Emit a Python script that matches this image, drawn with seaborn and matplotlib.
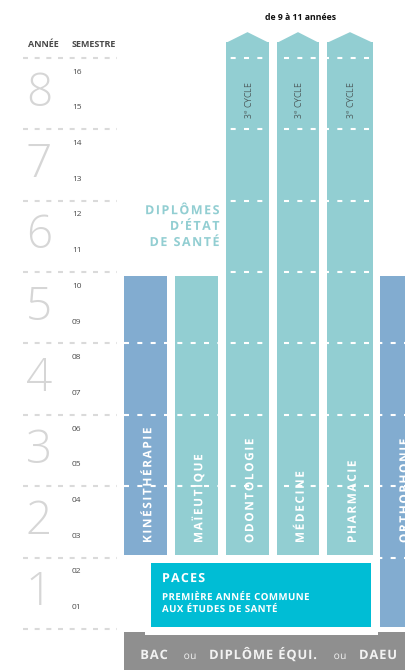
import matplotlib
matplotlib.use("Agg")
import matplotlib.pyplot as plt
import matplotlib.transforms as mtransforms
from matplotlib.patches import Polygon, Rectangle, PathPatch
from matplotlib.path import Path
from matplotlib.textpath import TextPath
from matplotlib.font_manager import FontProperties, findfont
from matplotlib.ft2font import FT2Font
import seaborn as sns

# ---- DATA ----
years = [1, 2, 3, 4, 5, 6, 7, 8]
semesters = ["01", "02", "03", "04", "05", "06", "07", "08",
             "09", "10", "11", "12", "13", "14", "15", "16"]

programs = ["KINÉSITHÉRAPIE", "MAÏEUTIQUE", "ODONTOLOGIE",
            "MÉDECINE", "PHARMACIE", "ORTHOPHONIE"]
first_year = [2, 2, 2, 2, 2, 1]
last_year = [5, 5, 8, 8, 8, 5]
open_ended = [False, False, True, True, True, False]
prog_colors = ["#82acd0", "#92ced2", "#92ced2", "#92ced2", "#92ced2", "#82acd0"]

long_label = "de 9 à 11 années"
cycle_label = "3$^{\\mathregular{e}}$ CYCLE"
diploma_lines = ["DIPLÔMES", "D’ÉTAT", "DE SANTÉ"]
paces_title = "PACES"
paces_lines = ["PREMIÈRE ANNÉE COMMUNE", "AUX ÉTUDES DE SANTÉ"]
entry_words = [("BAC", True), ("ou", False), ("DIPLÔME ÉQUI.", True),
               ("ou", False), ("DAEU", True)]

# ---- LAYOUT ----
col_left = [124, 175, 226, 277, 327, 380]
col_width = [43, 43, 43, 42, 46, 44]
entry_x = [154, 190, 263, 340, 378]
PX_PER_YEAR = 71.4
PT = 100 / 72

sns.set_theme(style="white")
plt.rcParams["font.family"] = ["Open Sans", "DejaVu Sans"]

fig = plt.figure(figsize=(4.05, 6.70), dpi=100)
ax = fig.add_axes([0, 0, 1, 1])
ax.set_xlim(0, 405)
ax.set_ylim(-0.574, 8.81)
ax.axis("off")


def spaced(x, y, s, size, track, weight="bold", color="white",
           vertical=False, align="left"):
    """Letter-spaced text drawn as glyph paths; y is the baseline."""
    prop = FontProperties(family="Open Sans", weight=weight)
    font = FT2Font(findfont(prop))
    font.set_size(size, 72)
    track_pt = track / PT
    pos, parts = 0.0, []
    for c in s:
        adv = font.load_char(ord(c)).linearHoriAdvance / 65536
        if c != " ":
            parts.append(TextPath((pos, 0), c, size=size, prop=prop))
        pos += adv + track_pt
    total = pos - track_pt
    shift = {"left": 0, "center": -total / 2, "right": -total}[align]
    tr = mtransforms.Affine2D().translate(shift, 0).scale(PT)
    if vertical:
        tr = tr.rotate_deg(90)
    tr = tr.scale(1, 1 / PX_PER_YEAR).translate(x, y) + ax.transData
    ax.add_patch(PathPatch(Path.make_compound_path(*parts), transform=tr,
                           facecolor=color, lw=0))


# grey dashed year separators (left)
ax.hlines(range(0, 9), 23, 117, colors="#dadada", lw=1.5,
          linestyles=(0, (2.4, 3.2)))

# headers
ax.text(43, 8.19, "ANNÉE", ha="center", va="center", fontsize=6.5,
        fontweight="bold", color="#4a4a4a")
ax.text(94, 8.19, "SEMESTRE", ha="center", va="center", fontsize=6.5,
        fontweight="bold", color="#4a4a4a")
ax.text(301, 8.56, long_label, ha="center", va="center", fontsize=6.3,
        fontweight="bold", color="#111111")

# year digits and semesters
for y in years:
    ax.text(39, y - 0.5, str(y), ha="center", va="center", fontsize=33,
            fontweight="light", color="#d6d6d6")
for i, s in enumerate(semesters):
    k = i // 2 + 1
    pos = k - 0.7 if i % 2 == 0 else k - 0.2
    ax.text(72, pos, s, ha="left", va="center", fontsize=6, color="#4a4a4a")

# entry bar + white halo behind PACES
ax.add_patch(Rectangle((124, -0.574), 281, 0.53, color="#8f8f8f", lw=0))
ax.add_patch(Rectangle((145, -0.084), 233, 1.1, color="white", lw=0))

# program columns
for i, name in enumerate(programs):
    bottom = first_year[i] - 1 + (0.028 if first_year[i] == 1 else 0.036)
    top = 8.22 if open_ended[i] else last_year[i] - 0.056
    ax.bar(col_left[i], top - bottom, bottom=bottom, width=col_width[i],
           align="edge", color=prog_colors[i], linewidth=0)
    cx = col_left[i] + col_width[i] / 2
    if open_ended[i]:
        ax.add_patch(Polygon([(col_left[i], top - 0.01), (cx, 8.36),
                              (col_left[i] + col_width[i], top - 0.01)],
                             closed=True, color=prog_colors[i], lw=0))
        ax.text(cx + 1, 7.41, cycle_label, rotation=90, ha="center",
                va="center", fontsize=6.3, color="#4f5f60")
    spaced(cx + 5.8, 1.204, name, 8.5, 1.6, vertical=True)

# white dashes across the columns
ax.hlines(range(1, 9), 124, 405, colors="white", lw=1.5,
          linestyles=(0, (2.4, 4.0)))

# PACES box
ax.add_patch(Rectangle((151, 0.028), 220, 0.9, color="#00bdd5", lw=0))
spaced(162, 0.658, paces_title, 9, 1.2)
spaced(162, 0.406, paces_lines[0], 7, 0.4)
spaced(162, 0.238, paces_lines[1], 7, 0.4)

# diplomas
dip_base = [5.81, 5.59, 5.364]
for line, yb in zip(diploma_lines, dip_base):
    spaced(219.5, yb, line, 9, 1.5, color="#92ced2", align="right")

# entry bar text
for (word, strong), x in zip(entry_words, entry_x):
    if strong:
        spaced(x, -0.42, word, 9.3, 0.9, color="#f2f2f2", align="center")
    else:
        spaced(x, -0.42, word, 7.3, 0.4, weight="normal", color="#f2f2f2",
               align="center")

fig.savefig("out.png", dpi=100)
